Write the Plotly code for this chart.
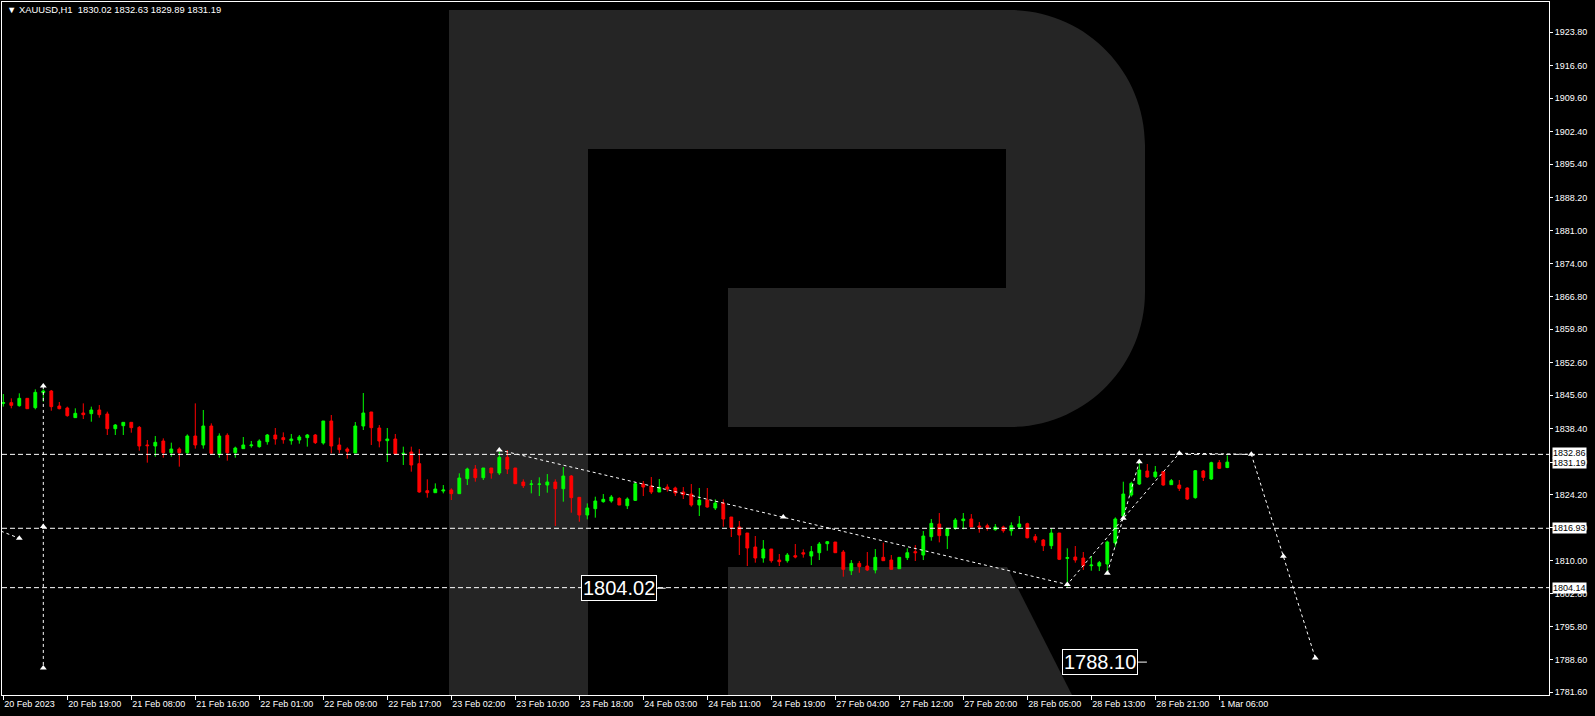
import plotly.graph_objects as go

# ---------------- data ----------------
bar_index = list(range(154))

opens = [
    1843.85, 1844.00, 1843.35, 1844.93, 1842.92, 1846.15, 1846.51, 1843.28, 1842.85, 1840.77,
    1841.77, 1841.63, 1842.42, 1841.56, 1838.39, 1839.04, 1839.76, 1838.68, 1834.88, 1834.66,
    1835.74, 1833.22, 1834.01, 1833.22, 1836.81, 1834.88, 1838.97, 1832.86, 1836.96, 1833.22,
    1834.09, 1834.73, 1834.52, 1835.59, 1837.03, 1836.46, 1835.81, 1835.95, 1836.46, 1837.03,
    1835.31, 1840.05, 1834.88, 1834.01, 1833.15, 1838.97, 1841.99, 1838.54, 1835.81, 1836.17,
    1833.00, 1833.37, 1830.85, 1825.03, 1824.60, 1824.96, 1825.18, 1824.39, 1827.62, 1829.70,
    1827.83, 1829.92, 1828.84, 1832.22, 1829.92, 1826.90, 1826.40, 1826.40, 1826.25, 1826.90,
    1825.46, 1828.19, 1823.60, 1819.79, 1821.16, 1822.66, 1822.81, 1823.38, 1821.80, 1822.95,
    1826.47, 1826.04, 1824.75, 1825.82, 1825.61, 1824.75, 1824.31, 1821.95, 1823.02, 1821.30,
    1822.38, 1819.36, 1817.21, 1815.91, 1812.90, 1810.53, 1812.46, 1810.09, 1809.95, 1811.03,
    1811.67, 1810.95, 1811.67, 1813.61, 1813.97, 1811.82, 1807.79, 1809.37, 1808.80, 1807.94,
    1810.67, 1810.09, 1808.22, 1810.60, 1811.89, 1811.17, 1815.12, 1817.85, 1815.34, 1816.91,
    1818.57, 1818.93, 1817.42, 1817.49, 1816.63, 1817.20, 1816.41, 1817.20, 1817.92, 1815.12,
    1814.40, 1813.18, 1815.91, 1810.45, 1810.74, 1810.52, 1808.87, 1808.80, 1809.23, 1813.76,
    1819.57, 1824.10, 1826.47, 1829.27, 1828.05, 1829.13, 1826.33, 1826.25, 1825.61, 1823.53,
    1829.27, 1827.55, 1831.07, 1830.02]

highs = [
    1845.86, 1844.93, 1846.01, 1844.93, 1846.87, 1846.87, 1846.73, 1844.14, 1843.14, 1842.78,
    1843.85, 1843.14, 1843.49, 1842.06, 1839.40, 1839.76, 1839.76, 1838.97, 1835.95, 1836.81,
    1836.31, 1835.38, 1834.37, 1837.17, 1843.85, 1842.42, 1839.54, 1837.39, 1837.39, 1834.52,
    1836.60, 1835.74, 1836.10, 1837.25, 1838.54, 1837.60, 1837.25, 1837.03, 1837.25, 1837.25,
    1840.05, 1841.34, 1836.46, 1834.37, 1839.83, 1846.08, 1841.99, 1839.18, 1838.54, 1837.25,
    1834.52, 1834.52, 1834.01, 1827.48, 1826.61, 1826.25, 1825.54, 1828.77, 1829.99, 1830.56,
    1829.92, 1829.92, 1833.44, 1833.80, 1829.92, 1827.48, 1827.33, 1827.91, 1828.62, 1827.48,
    1830.13, 1828.41, 1823.60, 1822.30, 1823.74, 1824.31, 1824.10, 1823.60, 1823.60, 1826.90,
    1827.12, 1827.98, 1827.55, 1826.40, 1825.90, 1825.82, 1826.47, 1825.61, 1825.61, 1823.17,
    1823.17, 1819.36, 1818.50, 1815.91, 1815.27, 1814.40, 1812.46, 1811.39, 1811.60, 1813.54,
    1812.39, 1813.11, 1813.97, 1814.19, 1813.97, 1812.25, 1810.09, 1809.88, 1811.82, 1812.46,
    1813.83, 1811.17, 1810.67, 1812.61, 1813.32, 1816.34, 1818.93, 1820.22, 1816.91, 1819.14,
    1820.22, 1820.00, 1818.28, 1817.92, 1817.85, 1817.49, 1818.21, 1819.57, 1818.14, 1815.69,
    1814.62, 1816.91, 1815.91, 1812.61, 1813.11, 1811.82, 1810.95, 1809.88, 1814.26, 1819.28,
    1826.97, 1826.97, 1831.64, 1830.78, 1830.35, 1829.27, 1827.55, 1827.33, 1825.75, 1829.49,
    1829.49, 1831.28, 1831.64, 1832.63]

lows = [
    1843.14, 1842.78, 1843.14, 1842.70, 1842.56, 1844.21, 1842.27, 1842.56, 1840.98, 1840.77,
    1840.48, 1839.90, 1840.77, 1837.03, 1837.03, 1837.03, 1837.53, 1833.65, 1831.07, 1832.36,
    1832.15, 1832.36, 1830.21, 1832.72, 1834.09, 1834.09, 1832.72, 1832.15, 1831.50, 1832.15,
    1834.09, 1834.30, 1834.30, 1834.95, 1834.95, 1835.16, 1834.95, 1835.16, 1834.52, 1835.09,
    1834.95, 1833.08, 1833.08, 1831.93, 1833.15, 1838.11, 1834.88, 1834.37, 1831.21, 1832.72,
    1830.57, 1829.13, 1824.60, 1823.53, 1824.60, 1824.46, 1823.02, 1824.39, 1826.25, 1826.97,
    1827.33, 1827.62, 1828.41, 1828.62, 1826.54, 1825.61, 1824.46, 1823.88, 1824.60, 1817.42,
    1822.66, 1820.29, 1818.35, 1818.86, 1819.22, 1822.45, 1822.45, 1821.95, 1821.08, 1822.81,
    1823.88, 1824.31, 1824.75, 1824.82, 1823.88, 1823.24, 1821.59, 1819.58, 1821.37, 1820.87,
    1817.28, 1815.05, 1811.17, 1808.80, 1809.52, 1809.52, 1809.52, 1808.80, 1809.52, 1810.45,
    1810.60, 1809.01, 1810.09, 1812.10, 1811.67, 1806.50, 1806.86, 1807.36, 1807.72, 1807.22,
    1809.95, 1808.08, 1808.22, 1810.09, 1809.88, 1810.09, 1814.26, 1813.90, 1812.46, 1816.56,
    1816.70, 1817.20, 1815.98, 1816.41, 1816.41, 1815.98, 1815.34, 1816.77, 1814.76, 1813.83,
    1812.03, 1812.46, 1810.09, 1804.35, 1809.52, 1807.94, 1807.79, 1807.72, 1807.22, 1812.97,
    1819.07, 1823.74, 1826.25, 1827.83, 1827.69, 1826.11, 1826.33, 1824.96, 1823.02, 1823.31,
    1827.12, 1827.33, 1829.70, 1829.89]

closes = [
    1844.00, 1843.42, 1844.93, 1842.70, 1846.22, 1846.51, 1843.14, 1842.70, 1841.20, 1841.70,
    1841.41, 1842.42, 1841.41, 1838.39, 1839.18, 1839.76, 1838.61, 1834.66, 1834.73, 1835.45,
    1833.22, 1834.01, 1833.22, 1836.81, 1834.88, 1838.97, 1833.08, 1836.81, 1833.22, 1834.23,
    1834.88, 1834.88, 1835.74, 1837.03, 1836.17, 1836.02, 1836.17, 1836.60, 1837.03, 1835.38,
    1840.05, 1834.66, 1833.87, 1833.51, 1838.97, 1841.77, 1838.61, 1835.74, 1836.17, 1832.94,
    1833.08, 1830.57, 1824.75, 1824.60, 1825.39, 1825.18, 1824.39, 1827.76, 1829.70, 1827.83,
    1829.92, 1828.84, 1832.22, 1829.70, 1826.54, 1826.11, 1826.47, 1826.47, 1826.90, 1825.46,
    1828.19, 1823.53, 1819.79, 1821.30, 1822.81, 1823.17, 1823.67, 1821.95, 1823.24, 1826.54,
    1825.82, 1824.75, 1825.75, 1825.39, 1824.53, 1824.17, 1821.95, 1823.02, 1821.51, 1822.38,
    1818.93, 1817.06, 1815.48, 1812.68, 1810.53, 1812.46, 1809.95, 1809.74, 1811.17, 1810.74,
    1811.38, 1811.89, 1813.54, 1814.04, 1811.67, 1808.08, 1809.37, 1808.66, 1807.94, 1810.67,
    1809.95, 1808.08, 1810.67, 1811.67, 1811.67, 1815.26, 1817.99, 1815.34, 1816.91, 1818.71,
    1818.93, 1817.20, 1817.20, 1817.06, 1817.20, 1816.41, 1817.49, 1817.85, 1814.90, 1814.40,
    1813.18, 1815.91, 1810.24, 1810.60, 1810.09, 1808.87, 1809.01, 1809.52, 1813.97, 1818.93,
    1824.31, 1826.61, 1829.49, 1827.98, 1829.06, 1826.25, 1827.19, 1825.54, 1823.24, 1829.34,
    1827.91, 1831.07, 1829.85, 1831.19]

x_tick_bars = [0, 8, 16, 24, 32, 40, 48, 56, 64, 72, 80, 88, 96, 104, 112, 120, 128, 136, 144, 152]
x_tick_labels = ["20 Feb 2023", "20 Feb 19:00", "21 Feb 08:00", "21 Feb 16:00", "22 Feb 01:00",
                 "22 Feb 09:00", "22 Feb 17:00", "23 Feb 02:00", "23 Feb 10:00", "23 Feb 18:00",
                 "24 Feb 03:00", "24 Feb 11:00", "24 Feb 19:00", "27 Feb 04:00", "27 Feb 12:00",
                 "27 Feb 20:00", "28 Feb 05:00", "28 Feb 13:00", "28 Feb 21:00", "1 Mar 06:00"]

y_tick_values = [1781.60, 1788.60, 1795.80, 1802.80, 1810.00, 1817.00, 1824.20, 1831.20, 1838.40,
                 1845.60, 1852.60, 1859.80, 1866.80, 1874.00, 1881.00, 1888.20, 1895.40, 1902.40,
                 1909.60, 1916.60, 1923.80]

level_prices = [1832.86, 1816.93, 1804.14]
last_price = 1831.19

# forecast path (bar index, price)
forecast_x = [62, 97.5, 133, 140, 147, 156, 160, 164]
forecast_y = [1833.80, 1819.36, 1804.82, 1819.08, 1833.09, 1832.87, 1810.89, 1788.98]
forecast2_x = [138, 142]
forecast2_y = [1807.23, 1831.28]
vertical_x = [5, 5, 5]
vertical_y = [1847.60, 1817.30, 1786.83]
left_x = [-1.0, 2.0]
left_y = [1816.80, 1814.77]

target_labels = ["1804.02", "1788.10"]
target_prices = [1804.02, 1788.10]
target_bars = [81.7, 141.85]

header = "\u25BC XAUUSD,H1  1830.02 1832.63 1829.89 1831.19"

# ---------------- layout geometry ----------------
W, H = 1595, 716
ML, MR, MT, MB = 2, 46, 2, 21
PW, PH = W - ML - MR, H - MT - MB
X_RANGE = [-0.1625, 193.2125]
Y_RANGE = [1781.01, 1930.33]
WM = "#252525"
FONT = "Liberation Sans, Arial, sans-serif"


def px(xp, yp):
    return f"{(xp - ML) / PW:.5f},{(H - MB - yp) / PH:.5f}"


def arc_path():
    k = 0.5523 * 135
    p = "M " + px(449, 695) + " L " + px(449, 10) + " L " + px(1010, 10)
    p += " C " + px(1010 + k, 10) + " " + px(1145, 145 - k) + " " + px(1145, 145)
    p += " L " + px(1145, 292)
    p += " C " + px(1145, 292 + k) + " " + px(1010 + k, 427) + " " + px(1010, 427)
    p += " L " + px(728, 427) + " L " + px(728, 288) + " L " + px(1006, 288)
    p += " L " + px(1006, 149) + " L " + px(588, 149) + " L " + px(588, 695) + " Z"
    return p


leg_path = "M " + px(728, 567) + " L " + px(1007, 567) + " L " + px(1072, 695) + " L " + px(728, 695) + " Z"

fig = go.Figure()

fig.add_trace(go.Candlestick(
    x=bar_index, open=opens, high=highs, low=lows, close=closes,
    increasing=dict(line=dict(color="#00FF00", width=1), fillcolor="#00FF00"),
    decreasing=dict(line=dict(color="#FF0000", width=1), fillcolor="#FF0000"),
    whiskerwidth=0, hoverinfo="skip", showlegend=False))

marker_style = dict(symbol="triangle-up", size=6, color="white")
dash_style = dict(color="white", width=1, dash="3px,3px")

for xs, ys in [(forecast_x, forecast_y), (forecast2_x, forecast2_y),
               (vertical_x, vertical_y), (left_x, left_y)]:
    fig.add_trace(go.Scatter(x=xs, y=ys, mode="lines+markers", line=dash_style,
                             marker=marker_style, hoverinfo="skip", showlegend=False))

shapes = [
    dict(type="path", xref="paper", yref="paper", path=arc_path(), fillcolor=WM,
         line=dict(width=0), layer="below"),
    dict(type="path", xref="paper", yref="paper", path=leg_path, fillcolor=WM,
         line=dict(width=0), layer="below"),
]
for lp in level_prices:
    shapes.append(dict(type="line", xref="paper", yref="y", x0=0, x1=1, y0=lp, y1=lp,
                       line=dict(color="white", width=1, dash="5px,3px"), layer="above"))
for tb, tp in zip(target_bars, target_prices):
    shapes.append(dict(type="line", xref="x", yref="y", x0=tb, x1=tb + 1.1, y0=tp, y1=tp,
                       line=dict(color="white", width=1)))

annotations = [
    dict(xref="paper", yref="paper", x=(5 - ML) / PW, y=(H - MB - 10) / PH, xanchor="left",
         yanchor="middle", text=header, showarrow=False,
         font=dict(color="white", size=9.4, family=FONT)),
]
for tb, tp, tl in zip(target_bars, target_prices, target_labels):
    annotations.append(dict(xref="x", yref="y", x=tb, y=tp, xanchor="right", yanchor="middle",
                            text=tl, showarrow=False, bgcolor="black", bordercolor="white",
                            borderwidth=1, borderpad=1,
                            font=dict(color="white", size=20, family=FONT)))
axis_labels = [(1832.86, 1), (last_price, -1), (1816.93, 0), (1804.14, 0)]
for val, sh in axis_labels:
    annotations.append(dict(xref="paper", yref="y", x=1, y=val, xanchor="left", yanchor="middle",
                            xshift=3, yshift=sh, text=f"{val:.2f}", showarrow=False,
                            bgcolor="white", borderpad=0,
                            font=dict(color="black", size=9, family=FONT)))

fig.update_layout(
    width=W, height=H, margin=dict(l=ML, r=MR, t=MT, b=MB),
    paper_bgcolor="black", plot_bgcolor="black", showlegend=False,
    boxgap=0.5, shapes=shapes, annotations=annotations,
    font=dict(family=FONT, color="white", size=9),
    xaxis=dict(range=X_RANGE, tickmode="array", tickvals=x_tick_bars, ticktext=x_tick_labels,
               ticks="outside", ticklen=4, tickcolor="white", showgrid=False, zeroline=False,
               showline=True, linecolor="white", linewidth=1, mirror=True,
               ticklabelposition="outside right",
               tickfont=dict(color="white", size=9, family=FONT),
               rangeslider=dict(visible=False), fixedrange=True),
    yaxis=dict(range=Y_RANGE, side="right", tickmode="array", tickvals=y_tick_values,
               ticktext=[f"{v:.2f}" for v in y_tick_values], ticks="outside", ticklen=3,
               tickcolor="white", showgrid=False, zeroline=False, showline=True,
               linecolor="white", linewidth=1, mirror=True,
               tickfont=dict(color="white", size=9, family=FONT), fixedrange=True),
)

fig.write_html("out.html", config={"displayModeBar": False},
               post_script="document.body.style.margin='0px';document.body.style.overflow='hidden';document.body.style.background='black';")
